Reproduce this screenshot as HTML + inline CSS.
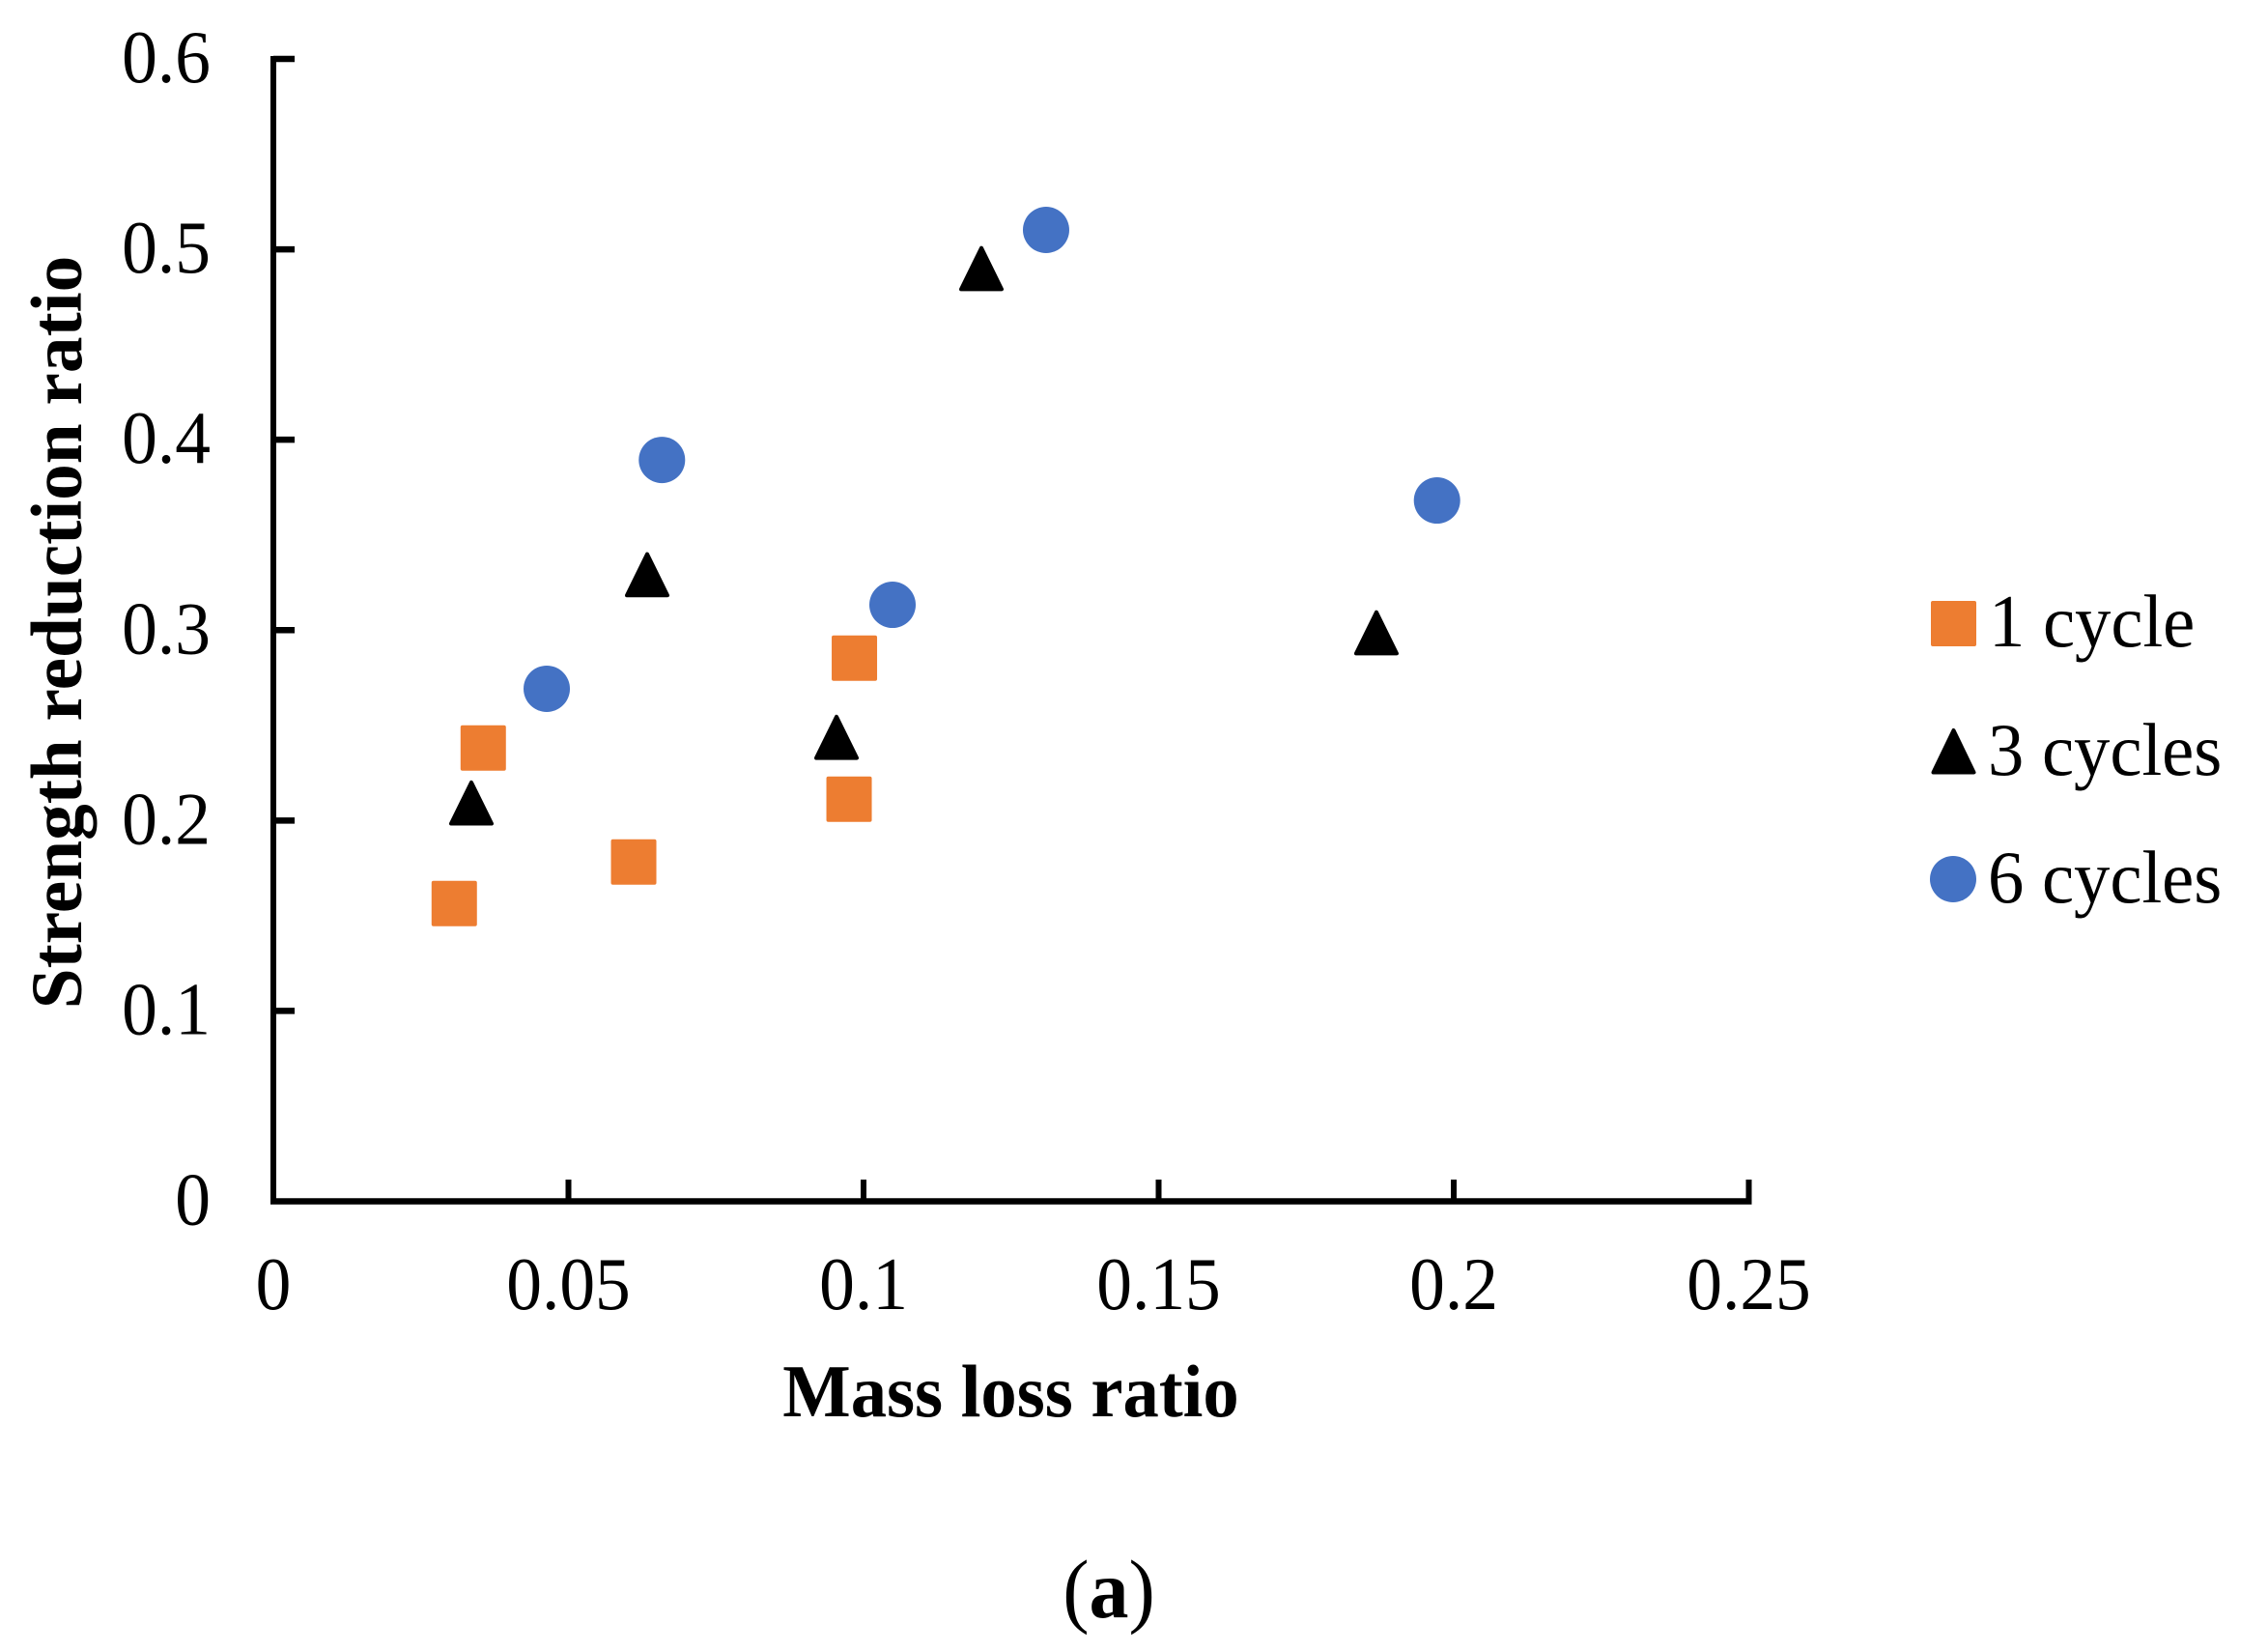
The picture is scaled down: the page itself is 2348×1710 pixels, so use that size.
<!DOCTYPE html>
<html lang="en">
<head>
<meta charset="utf-8">
<title>Strength reduction ratio vs mass loss ratio</title>
<style>
html,body{margin:0;padding:0;background:#fff;width:2348px;height:1710px;overflow:hidden}
svg{display:block}
text{font-family:"Liberation Serif","Times New Roman",serif;fill:#000}
</style>
</head>
<body>
<svg id="chart" xmlns="http://www.w3.org/2000/svg" width="2348" height="1710" viewBox="0 0 2348 1710">
  <rect x="0" y="0" width="2348" height="1710" fill="#ffffff"/>
  <g id="axes"></g>
  <g id="marks"></g>
  <text transform="translate(1046.5 1466) scale(1 1.03)" font-size="74.6" font-weight="700" text-anchor="middle">Mass loss ratio</text>
  <text transform="translate(84 654.5) rotate(-90)" font-size="75.3" font-weight="700" text-anchor="middle">Strength reduction ratio</text>
  <text transform="translate(1148 1674) scale(1 1.05)" font-size="82" font-weight="700" text-anchor="middle"><tspan font-weight="400">(</tspan>a<tspan font-weight="400">)</tspan></text>
  <g>
    <g>
      <rect x="1999" y="622" width="47" height="47" rx="2" fill="#ED7D31"/>
      <text transform="translate(2059 669) scale(1 1.03)" font-size="74.6" xml:space="preserve">1 cycle</text>
    </g>
    <g>
      <polygon points="2022.5,756 2043.5,799.5 2001.5,799.5" fill="#000" stroke="#000" stroke-width="4" stroke-linejoin="round"/>
      <text transform="translate(2058 802) scale(1 1.03)" font-size="74.6" xml:space="preserve">3 cycles</text>
    </g>
    <g>
      <circle cx="2022" cy="910" r="24" fill="#4472C4"/>
      <text transform="translate(2058 934) scale(1 1.03)" font-size="74.6" xml:space="preserve">6 cycles</text>
    </g>
  </g>
</svg>
<script>
const xTickLabels = ["0", "0.05", "0.1", "0.15", "0.2", "0.25"];
const yTickLabels = ["0", "0.1", "0.2", "0.3", "0.4", "0.5", "0.6"];
const xTickValues = [0, 0.05, 0.1, 0.15, 0.2, 0.25];
const yTickValues = [0, 0.1, 0.2, 0.3, 0.4, 0.5, 0.6];

const oneCycleX = [0.03065, 0.03556, 0.06105, 0.09755, 0.09845];
const oneCycleY = [0.1564, 0.2381, 0.1782, 0.2112, 0.2853];
const threeCyclesX = [0.03355, 0.06334, 0.09542, 0.11997, 0.1869];
const threeCyclesY = [0.2092, 0.3291, 0.2437, 0.4899, 0.2986];
const sixCyclesX = [0.04632, 0.06584, 0.10491, 0.13093, 0.19717];
const sixCyclesY = [0.2692, 0.3894, 0.3133, 0.5102, 0.3681];

const NS = "http://www.w3.org/2000/svg";
const axes = document.getElementById("axes");
const marks = document.getElementById("marks");

function xPos(v) { return 283 + v * 6110; }
function yPos(v) { return 1243.5 - v * 1970.8; }

function line(x1, y1, x2, y2, w) {
  const el = document.createElementNS(NS, "line");
  el.setAttribute("x1", x1);
  el.setAttribute("y1", y1);
  el.setAttribute("x2", x2);
  el.setAttribute("y2", y2);
  el.setAttribute("stroke", "#000");
  el.setAttribute("stroke-width", w);
  return el;
}

function label(x, y, anchor, str) {
  const el = document.createElementNS(NS, "text");
  el.setAttribute("transform", "translate(" + x + " " + y + ") scale(0.985 1.035)");
  el.setAttribute("font-size", "74.6");
  el.setAttribute("text-anchor", anchor);
  el.textContent = str;
  return el;
}

const xAxisLine = line(280, yPos(0), xPos(0.25) + 3, yPos(0), 6.5);


axes.appendChild(xAxisLine);

const yAxisLine = line(xPos(0), yPos(0.6) - 3, xPos(0), yPos(0) + 3, 6);


axes.appendChild(yAxisLine);

xTickValues.forEach(function (v, i) {
  if (i > 0) {
    const tick = line(xPos(v), 1221, xPos(v), yPos(0), 6);
    
    
    axes.appendChild(tick);
  }
  const t = label(xPos(v), 1355, "middle", xTickLabels[i]);
  
  
  axes.appendChild(t);
});

yTickValues.forEach(function (v, i) {
  if (i > 0) {
    const tick = line(xPos(0), yPos(v), 305, yPos(v), 6.5);
    
    
    axes.appendChild(tick);
  }
  const t = label(218, yPos(v) + 24, "end", yTickLabels[i]);
  
  
  axes.appendChild(t);
});

oneCycleX.forEach(function (v, i) {
  const cx = xPos(v);
  const cy = yPos(oneCycleY[i]);
  const el = document.createElementNS(NS, "rect");
  el.setAttribute("x", cx - 23.5);
  el.setAttribute("y", cy - 23.5);
  el.setAttribute("width", 47);
  el.setAttribute("height", 47);
  el.setAttribute("rx", 2);
  el.setAttribute("fill", "#ED7D31");
  
  
  marks.appendChild(el);
});

threeCyclesX.forEach(function (v, i) {
  const cx = xPos(v);
  const cy = yPos(threeCyclesY[i]);
  const el = document.createElementNS(NS, "polygon");
  el.setAttribute("points", cx + "," + (cy - 21.35) + " " + (cx + 21) + "," + (cy + 21.35) + " " + (cx - 21) + "," + (cy + 21.35));
  el.setAttribute("fill", "#000");
  el.setAttribute("stroke", "#000");
  el.setAttribute("stroke-width", 4);
  el.setAttribute("stroke-linejoin", "round");
  
  
  marks.appendChild(el);
});

sixCyclesX.forEach(function (v, i) {
  const el = document.createElementNS(NS, "circle");
  el.setAttribute("cx", xPos(v));
  el.setAttribute("cy", yPos(sixCyclesY[i]));
  el.setAttribute("r", 24);
  el.setAttribute("fill", "#4472C4");
  
  
  marks.appendChild(el);
});
</script>
</body>
</html>
